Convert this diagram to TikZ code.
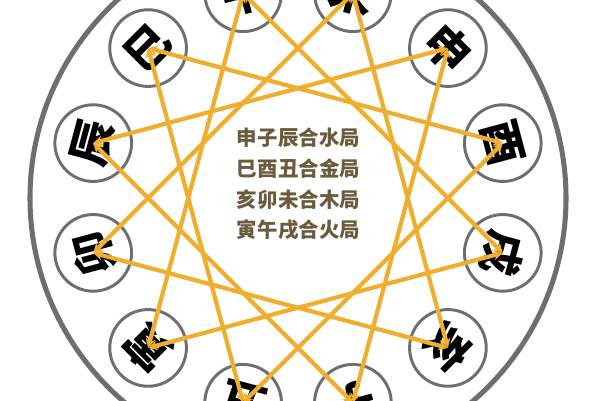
\documentclass[tikz,border=0pt]{standalone}
\usepackage{fontspec}
\newfontfamily\cjk{Noto Sans CJK SC}
\usetikzlibrary{arrows.meta,calc}
\definecolor{ringgray}{HTML}{6E6E6E}
\definecolor{star}{HTML}{EFAE2E}
\definecolor{txtbrown}{HTML}{6B5A3C}
\tikzset{
  branch/.style={circle, draw=ringgray, line width=2.5pt, minimum size=2.3cm, inner sep=0pt,
    font=\cjk\bfseries\fontsize{38}{38}\selectfont, text=black},
  starline/.style={draw=star, line width=3.6pt, {Stealth[length=8pt,width=8.5pt]}-{Stealth[length=8pt,width=8.5pt]}},
  info/.style={font=\cjk\bfseries\fontsize{17.5}{17.5}\selectfont, text=txtbrown}
}
\begin{document}
\begin{tikzpicture}[x=0.03cm,y=0.03cm]
\useasboundingbox (0,0) rectangle (600,400);
\fill[white] (0,0) rectangle (600,400);
\coordinate (C) at (298,202);
\draw[ringgray, line width=4.3pt] (C) circle[radius=268];
% branch circles
\foreach \nm/\ang in {mao/195, chen/165, si/135, wu/105, wei/75, shen/45, you/15, xu/-15, hai/-45, zi/-75, chou/-105, yin/-135}{
  \coordinate (\nm) at ($(C)+(\ang:212)$);
}
\node[branch, rotate=105] (nmao) at (mao) {卯};
\node[branch, rotate=75] (nchen) at (chen) {辰};
\node[branch, rotate=45] (nsi) at (si) {巳};
\node[branch, rotate=15] (nwu) at (wu) {午};
\node[branch, rotate=-15] (nwei) at (wei) {未};
\node[branch, rotate=-45] (nshen) at (shen) {申};
\node[branch, rotate=-75] (nyou) at (you) {酉};
\node[branch, rotate=-105] (nxu) at (xu) {戌};
\node[branch, rotate=-135] (nhai) at (hai) {亥};
\node[branch, rotate=-165] (nzi) at (zi) {子};
\node[branch, rotate=165] (nchou) at (chou) {丑};
\node[branch, rotate=135] (nyin) at (yin) {寅};
% triangles
\draw[starline] (nshen.center) -- (nzi.center);
\draw[starline] (nzi.center) -- (nchen.center);
\draw[starline] (nchen.center) -- (nshen.center);
\draw[starline] (nsi.center) -- (nyou.center);
\draw[starline] (nyou.center) -- (nchou.center);
\draw[starline] (nchou.center) -- (nsi.center);
\draw[starline] (nhai.center) -- (nmao.center);
\draw[starline] (nmao.center) -- (nwei.center);
\draw[starline] (nwei.center) -- (nhai.center);
\draw[starline] (nyin.center) -- (nwu.center);
\draw[starline] (nwu.center) -- (nxu.center);
\draw[starline] (nxu.center) -- (nyin.center);
% center text
\node[info] (t1) at (298.5,262) {申子辰合水局};
\node[info] (t2) at (298.5,231) {巳酉丑合金局};
\node[info] (t3) at (298.5,200) {亥卯未合木局};
\node[info] (t4) at (298.5,170) {寅午戌合火局};
\end{tikzpicture}
\end{document}
